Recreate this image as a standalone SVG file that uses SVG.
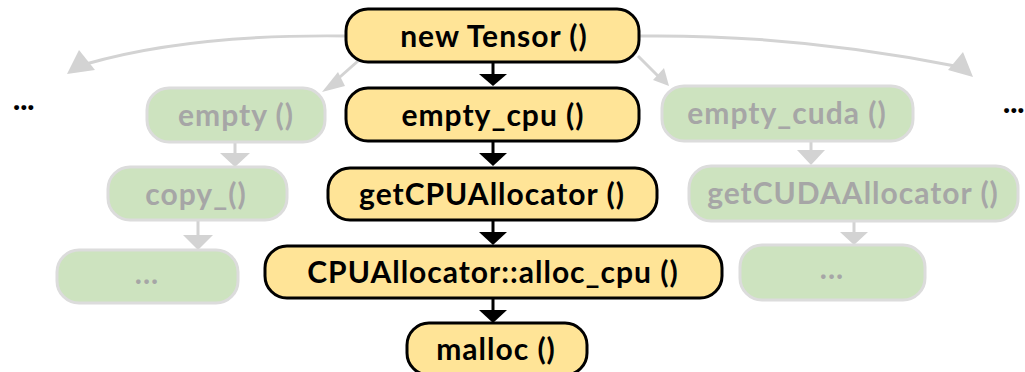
<svg xmlns="http://www.w3.org/2000/svg" width="1025" height="372" viewBox="0 0 1025 372">
  <defs>
    <style>
      .main rect { fill: #ffe497; stroke: #000; stroke-width: 3; }
      .main text { fill: #000; font-family: Lato, "Open Sans", sans-serif; font-weight: 700; font-size: 30px; letter-spacing: 1px; text-anchor: middle; }
      .alt rect { fill: #cde3bf; stroke: #dcdcdc; stroke-width: 3; }
      .alt text { fill: #a6a6a6; font-family: Lato, "Open Sans", sans-serif; font-weight: 700; font-size: 30px; letter-spacing: 1px; text-anchor: middle; }
      .more { fill: #000; font-family: Lato, "Open Sans", sans-serif; font-weight: 900; font-size: 30px; }
      .dark { stroke: #000; stroke-width: 3; fill: none; }
      .light { stroke: #d3d3d3; stroke-width: 3; fill: none; }
      .headDark { fill: #000; }
      .headLight { fill: #d3d3d3; }
    </style>
  </defs>

  <!-- connectors -->
  <g id="connectors">
    <!-- main call chain -->
    <line class="dark" x1="493" y1="63" x2="493" y2="76"/>
    <path class="headDark" d="M479,74 L507,74 L493,86 Z"/>
    <line class="dark" x1="493" y1="142" x2="493" y2="155"/>
    <path class="headDark" d="M479,153 L507,153 L493,166 Z"/>
    <line class="dark" x1="493" y1="221" x2="493" y2="234"/>
    <path class="headDark" d="M479,232 L507,232 L493,245 Z"/>
    <line class="dark" x1="493" y1="299" x2="493" y2="312"/>
    <path class="headDark" d="M479,310 L507,310 L493,323 Z"/>

    <!-- branches to other backends -->
    <path class="light" d="M346,36 Q190,34 86,64"/>
    <path class="headLight" d="M79,50 L67,74 L95,70 Z"/>
    <path class="light" d="M639,36 Q795,34 955,66"/>
    <path class="headLight" d="M963,52 L973,77 L948,70 Z"/>
    <line class="light" x1="358" y1="61" x2="332" y2="84"/>
    <path class="headLight" d="M338,72 L322,92 L345,86 Z"/>
    <line class="light" x1="638" y1="56" x2="660" y2="78"/>
    <path class="headLight" d="M653,80 L669,86 L664,68 Z"/>

    <!-- faded chains -->
    <line class="light" x1="235" y1="143" x2="235" y2="155"/>
    <path class="headLight" d="M220,153 L250,153 L235,167 Z"/>
    <line class="light" x1="198" y1="221" x2="198" y2="236"/>
    <path class="headLight" d="M183,235 L213,235 L198,250 Z"/>
    <line class="light" x1="811" y1="141" x2="811" y2="152"/>
    <path class="headLight" d="M797,150 L825,150 L811,165 Z"/>
    <line class="light" x1="854" y1="222" x2="854" y2="233"/>
    <path class="headLight" d="M840,232 L868,232 L854,245 Z"/>
  </g>

  <!-- main path nodes -->
  <g id="newTensor" class="main">
    <rect x="346" y="9" width="293" height="53" rx="22"/>
    <text x="494" y="47">new Tensor ()</text>
  </g>
  <g id="emptyCpu" class="main">
    <rect x="346" y="88" width="293" height="53" rx="22"/>
    <text x="493" y="126">empty_cpu ()</text>
  </g>
  <g id="getCPUAllocator" class="main">
    <rect x="328" y="168" width="329" height="52" rx="22"/>
    <text x="492" y="205">getCPUAllocator ()</text>
  </g>
  <g id="allocCpu" class="main">
    <rect x="265" y="246" width="457" height="52" rx="22"/>
    <text x="493" y="283">CPUAllocator::alloc_cpu ()</text>
  </g>
  <g id="malloc" class="main">
    <rect x="407" y="323" width="180" height="52" rx="22"/>
    <text x="496" y="360">malloc ()</text>
  </g>

  <!-- other backend nodes -->
  <g id="empty" class="alt">
    <rect x="147" y="88" width="178" height="54" rx="22"/>
    <text x="236" y="126">empty ()</text>
  </g>
  <g id="copy" class="alt">
    <rect x="108" y="167" width="179" height="53" rx="22"/>
    <text x="196" y="205">copy_()</text>
  </g>
  <g id="cpuMore" class="alt">
    <rect x="57" y="250" width="181" height="53" rx="22"/>
    <text x="147" y="284">...</text>
  </g>
  <g id="emptyCuda" class="alt">
    <rect x="662" y="86" width="251" height="55" rx="22"/>
    <text x="787" y="124">empty_cuda ()</text>
  </g>
  <g id="getCUDAAllocator" class="alt">
    <rect x="689" y="166" width="329" height="55" rx="22"/>
    <text x="853" y="204">getCUDAAllocator ()</text>
  </g>
  <g id="cudaMore" class="alt">
    <rect x="740" y="245" width="185" height="55" rx="22"/>
    <text x="832" y="279">...</text>
  </g>

  <!-- further backends, elided -->
  <g id="leftMore">
    <text class="more" x="13" y="110">...</text>
  </g>
  <g id="rightMore">
    <text class="more" x="1003" y="113">...</text>
  </g>
</svg>
